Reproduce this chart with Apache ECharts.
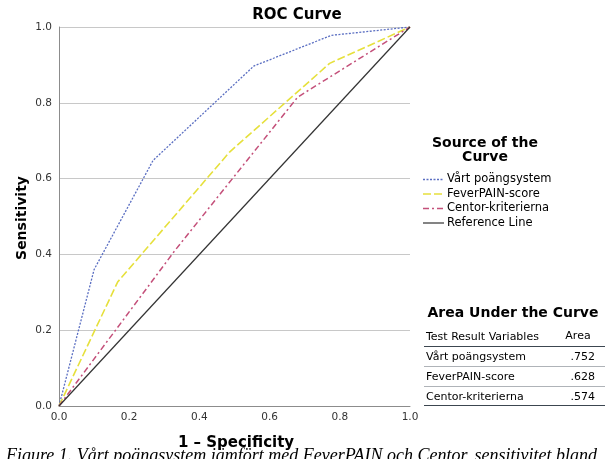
<!DOCTYPE html>
<html>
<head>
<meta charset="utf-8">
<script src="https://cdn.jsdelivr.net/npm/echarts@6/dist/echarts.min.js"></script>
<style>
html,body{margin:0;padding:0;background:#fff;}
#c{width:605px;height:459px;}
</style>
</head>
<body>
<div id="c"></div>
<script>
// ---- data ----
var seriesNames = ['Vårt poängsystem', 'FeverPAIN-score', 'Centor-kriterierna', 'Reference Line'];
var vartPoints = [[0, 0], [0.1, 0.36], [0.268, 0.648], [0.555, 0.897], [0.776, 0.978], [1, 1]];
var feverPoints = [[0, 0], [0.167, 0.327], [0.486, 0.670], [0.771, 0.904], [1, 1]];
var centorPoints = [[0, 0], [0.33, 0.41], [0.68, 0.815], [1, 1]];
var referencePoints = [[0, 0], [1, 1]];
var axisTicks = [0, 0.2, 0.4, 0.6, 0.8, 1.0];
var aucLabels = ['Vårt poängsystem', 'FeverPAIN-score', 'Centor-kriterierna'];
var aucValues = ['.752', '.628', '.574'];

var FONT = '"DejaVu Sans", sans-serif';
var styles = [
  {color: '#5b6fc2', dash: [2, 1.5], width: 1.3},
  {color: '#e6e03c', dash: [8, 3], width: 1.6},
  {color: '#c4507a', dash: [6, 3, 2, 3], width: 1.5},
  {color: '#333333', dash: 'solid', width: 1.2}
];
var chart = echarts.init(document.getElementById('c'), null, {renderer: 'canvas'});

function lineSeries(idx, data) {
  var s = styles[idx];
  return {
    name: seriesNames[idx], type: 'line', data: data, symbol: 'none', smooth: false,
    lineStyle: {color: s.color, width: s.width, type: s.dash},
    itemStyle: {color: s.color},
    silent: true, animation: false
  };
}

var graphics = [
  {type: 'text', style: {text: 'ROC Curve', x: 297, y: 15, font: 'bold 15px ' + FONT, fill: '#000', textAlign: 'center', textVerticalAlign: 'middle'}},
  {type: 'text', x: 22, y: 218, rotation: Math.PI / 2, style: {text: 'Sensitivity', font: 'bold 14px ' + FONT, fill: '#000', textAlign: 'center', textVerticalAlign: 'middle'}},
  {type: 'text', style: {text: '1 – Specificity', x: 236, y: 443, font: 'bold 15px ' + FONT, fill: '#000', textAlign: 'center', textVerticalAlign: 'middle'}},
  {type: 'text', style: {text: 'Source of the', x: 485, y: 143, font: 'bold 14px ' + FONT, fill: '#000', textAlign: 'center', textVerticalAlign: 'middle'}},
  {type: 'text', style: {text: 'Curve', x: 485, y: 157, font: 'bold 14px ' + FONT, fill: '#000', textAlign: 'center', textVerticalAlign: 'middle'}},
  {type: 'text', style: {text: 'Area Under the Curve', x: 513, y: 313, font: 'bold 14px ' + FONT, fill: '#000', textAlign: 'center', textVerticalAlign: 'middle'}},
  {type: 'text', style: {text: 'Test Result Variables', x: 426, y: 337, font: '11px ' + FONT, fill: '#000', textAlign: 'left', textVerticalAlign: 'middle'}},
  {type: 'text', style: {text: 'Area', x: 578, y: 336, font: '11px ' + FONT, fill: '#000', textAlign: 'center', textVerticalAlign: 'middle'}},
  {type: 'line', shape: {x1: 424, y1: 346.5, x2: 605, y2: 346.5}, style: {stroke: '#3c4650', lineWidth: 1.2}},
  {type: 'line', shape: {x1: 424, y1: 405.5, x2: 605, y2: 405.5}, style: {stroke: '#3c4650', lineWidth: 1.2}},
  {type: 'text', style: {text: 'Figure 1. Vårt poängsystem jämfört med FeverPAIN och Centor, sensitivitet bland', x: 6, y: 447, font: 'italic 18px "Liberation Serif", serif', fill: '#000', textAlign: 'left', textVerticalAlign: 'top'}}
];
var legendY = [179.5, 194, 208.5, 223];
for (var k = 0; k < seriesNames.length; k++) {
  var st = styles[k];
  graphics.push({type: 'line', shape: {x1: 423, y1: legendY[k], x2: 444, y2: legendY[k]},
    style: {stroke: st.color, lineWidth: st.width, lineDash: st.dash === 'solid' ? null : st.dash}});
  graphics.push({type: 'text', style: {text: seriesNames[k], x: 447, y: legendY[k], font: '11.5px ' + FONT, fill: '#000', textAlign: 'left', textVerticalAlign: 'middle'}});
}
var rowY = [357, 377, 397];
for (var i = 0; i < aucLabels.length; i++) {
  graphics.push({type: 'text', style: {text: aucLabels[i], x: 426, y: rowY[i], font: '11px ' + FONT, fill: '#000', textAlign: 'left', textVerticalAlign: 'middle'}});
  graphics.push({type: 'text', style: {text: aucValues[i], x: 595, y: rowY[i], font: '11px ' + FONT, fill: '#000', textAlign: 'right', textVerticalAlign: 'middle'}});
  if (i < aucLabels.length - 1) {
    graphics.push({type: 'line', shape: {x1: 424, y1: rowY[i] + 9.5, x2: 605, y2: rowY[i] + 9.5}, style: {stroke: '#9aa0a6', lineWidth: 0.8}});
  }
}

var axisCommon = {
  type: 'value', min: 0, max: 1, interval: 0.2,
  axisLine: {show: true, lineStyle: {color: '#8c8c8c', width: 1}},
  axisTick: {show: false},
  axisLabel: {color: '#333', fontSize: 10.5, fontFamily: FONT, formatter: function (v) { return v.toFixed(1); }}
};

chart.setOption({
  animation: false,
  backgroundColor: '#fff',
  grid: {left: 59, right: 195, top: 27, bottom: 53, containLabel: false},
  xAxis: Object.assign({}, axisCommon, {
    axisLabel: Object.assign({}, axisCommon.axisLabel, {margin: 6}),
    splitLine: {show: false}
  }),
  yAxis: Object.assign({}, axisCommon, {
    axisLabel: Object.assign({}, axisCommon.axisLabel, {margin: 7}),
    splitLine: {show: true, lineStyle: {color: '#c8c8c8', width: 1}}
  }),
  graphic: graphics,
  series: [
    lineSeries(0, vartPoints),
    lineSeries(1, feverPoints),
    lineSeries(2, centorPoints),
    lineSeries(3, referencePoints)
  ]
});
</script>
</body>
</html>
